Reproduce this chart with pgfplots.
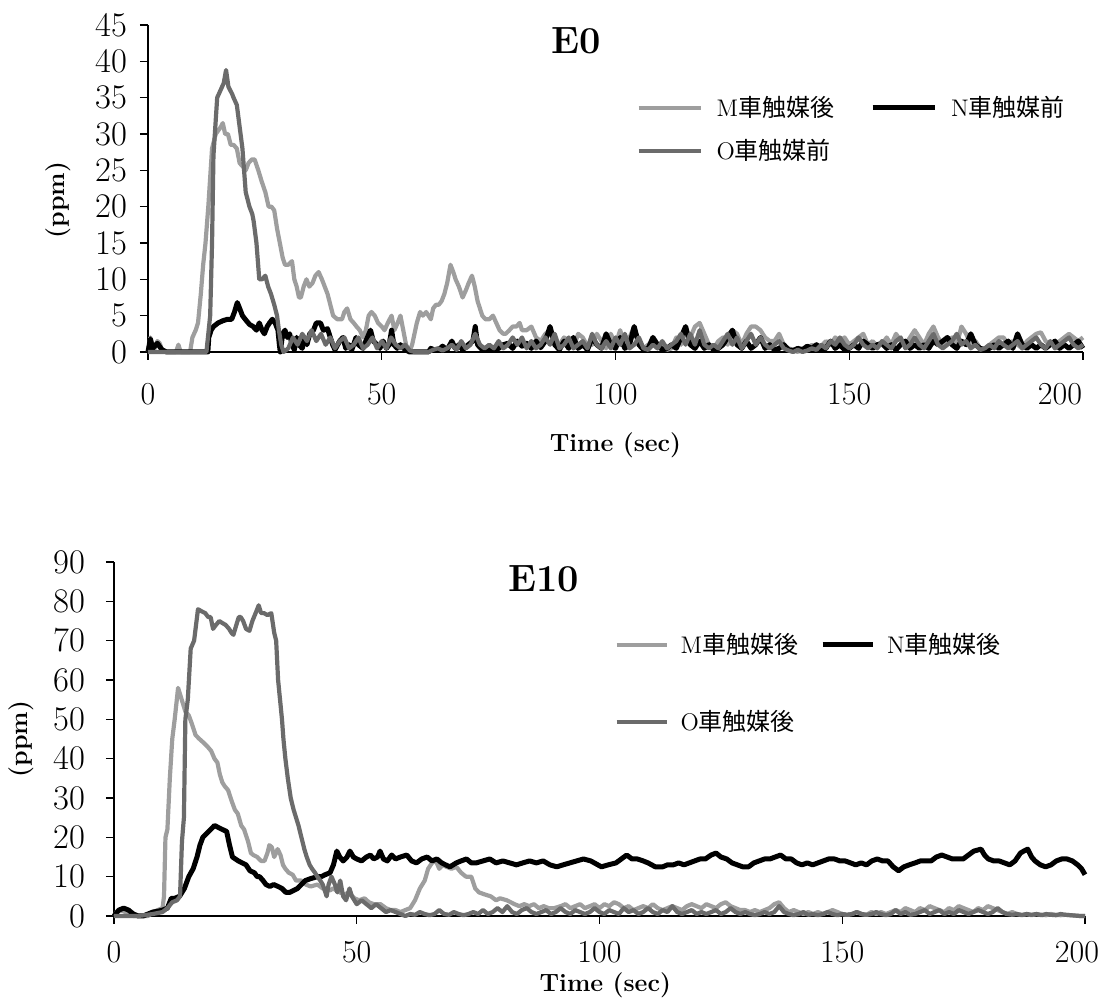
\documentclass[border=0pt]{standalone}
\usepackage{fontspec}
\usepackage{pgfplots}
\pgfplotsset{compat=1.18}
\newfontfamily\cjk{Noto Sans CJK JP}
\definecolor{mgray}{gray}{0.62}
\definecolor{ogray}{gray}{0.42}

\pgfplotsset{
  panel/.style={
    scale only axis, xmin=0, xmax=200, ymin=0,
    axis lines*=left, clip=false,
    axis line style={line width=0.8pt, black},
    tick align=outside, major tick length=4pt,
    tick style={line width=0.6pt, black},
    xtick={0,50,...,200},
    ticklabel style={font=\fontsize{16}{18}\selectfont},
    label style={font=\bfseries\fontsize{12.5}{15}\selectfont},
    legend cell align=left,
    legend columns=2,
  },
  mline/.style={mgray, line width=2.1pt, line join=round},
  nline/.style={black, line width=2.5pt, line join=round},
  oline/.style={ogray, line width=2.1pt, line join=round},
}

\begin{document}
\begin{tikzpicture}
\useasboundingbox (0,0) rectangle (552.5pt,500pt);

% ---------------- E0 ----------------
\begin{axis}[panel,
  at={(74pt,324pt)}, anchor=south west,
  width=467.5pt, height=163.5pt,
  ymax=45, ytick={0,5,...,45},
  xticklabels={0,50,100,150,\hspace*{-23pt}200},
  xticklabel style={yshift=-8pt},
  yticklabel style={xshift=-3pt},
  xlabel={Time (sec)}, ylabel={(ppm)},
  xlabel style={at={(axis description cs:0.5,-0.284)}, anchor=center},
  ylabel style={at={(axis description cs:-0.096,0.465)}, anchor=center},
  legend image code/.code={\draw[#1] (0pt,0pt) -- (31pt,0pt);},
  legend style={at={(axis cs:104.4,35.8)}, anchor=north west, draw=none, fill=none,
    inner sep=0pt, font=\fontsize{12}{14}\selectfont, row sep=6pt,
    /tikz/every odd column/.append style={column sep=5pt},
    /tikz/every even column/.append style={column sep=16pt}},
]
\addplot[mline] coordinates {
(0,0)(0.5,2)(1,1)(1.5,0.5)(2,1.5)(2.5,1.2)(3,0.3)(4,0)(6,0)(6.5,1)(7,0)(9,0)(9.5,2)(10.2,3)(10.7,4)(11.3,8)(11.8,12)(12.3,15)(12.9,20)(13.4,25)(13.7,28)(14.5,30)(15.6,31)(16,31.5)(16.5,30)(17.1,30)(17.7,28.5)(18.3,28.5)(19,28)(19.6,26)(20.3,25.5)(20.9,25)(21.5,26)(22.2,26.5)(22.8,26.5)(23.6,25)(24.3,23.5)(25.1,22)(25.8,20)(26.4,20)(27,19.5)(27.6,17)(28.2,15)(28.8,13)(29.3,12)(30,12)(30.8,12.5)(31.3,10)(31.8,9)(32.3,7.5)(32.7,7.5)(33.3,9)(33.9,10)(34.5,9)(35.2,9.5)(35.8,10.5)(36.5,11)(37.2,10)(37.8,9)(38.4,8)(39,6.5)(39.6,5)(40.5,4.5)(41.5,4.5)(42,5.5)(42.6,6)(43.3,4.5)(44,4)(44.6,3.5)(45.3,3)(46,2)(46.6,3)(47.2,5)(47.8,5.5)(48.5,5)(49.2,4)(50,3.5)(50.6,3)(51.3,4)(52.1,5)(52.7,3)(53.4,4)(54,5)(54.6,3)(55.2,1)(55.9,0)(56.5,1)(57,2.5)(57.5,4)(58.2,5.5)(58.8,5)(59.5,5.5)(60.5,4.5)(61,6)(61.6,6.5)(62.2,6.5)(62.8,7)(63.4,8)(64,9.5)(64.7,12)(65.3,11)(65.8,10)(66.5,9)(67.3,7.5)(68,8.5)(68.6,9.5)(69.3,10.5)(69.9,9)(70.5,7)(71.5,5)(72.2,4.5)(73,4.5)(73.8,5)(74.5,4)(75.2,3)(76,2.5)(76.5,2.5)(77.3,3)(78,3.5)(78.8,3.5)(79.5,4)
(80,3)(81,3)(82,3.5)(83,2)(84,1.5)(85,2.5)(86,3)(87,1.5)(88,1)(89,2)(90,1.5)(91,0.5)(92,2.5)(93,2)(94,0.8)(95,1)(96,2.5)(97,1.5)(98,0.5)(99,2.5)(100,1)(101,3)(102,1)(103,2)(104,3.5)(105,1)(106,0.5)(107,1)(108,1.5)(109,0.5)(110,1)(111,0.3)(112,0.5)(113,2)(114,1)(115,3)(116,2)(117,3.5)(118,4)(119,2.5)(120,1)(121,0.5)(122,1.5)(123,2)(124,1)(125,3)(126,2.5)(127,1)(128,2.5)(129,3.5)(130,3.5)(131,3)(132,2)(133,1.5)(134,1.5)(135,2.5)(136,1)(137,0.5)(138,0.3)(139,0)(140,0.5)(141,0.3)(142,1)(143,0.5)(144,0.8)(145,1.5)(146,1)(147,2)(148,1.5)(149,2)(150,1)(151,1.5)(152,2)(153,2.5)(154,1)(155,1.5)(156,0.8)(157,1)(158,2)(159,1)(160,2.5)(161,1.5)(162,1)(163,2)(164,3)(165,2)(166,1)(167,2.5)(168,3.5)(169,2)(170,1)(171,1.5)(172,2)(173,1)(174,3.5)(175,2.5)(176,1)(177,1.5)(178,0.5)(179,0.5)(180,1)(181,1.5)(182,2)(183,2)(184,1)(185,1.5)(186,1)(187,0.5)(188,1.5)(189,2)(190,2.5)(191,2.7)(192,1.5)(193,1)(194,1)(195,1.5)(196,2)(197,2.5)(198,2)(199,1.5)(200,2)
};
\addlegendentry{M{\cjk 車触媒後}}
\addplot[nline] coordinates {
(0,0)(0.5,1.8)(1,0.5)(2,1.2)(3,0.3)(4,0)(12.8,0)(13,2)(13.5,3)(14,3.5)(15,4)(16,4.3)(17,4.5)(17.9,4.5)(18.5,5.5)(19.1,6.8)(19.6,6)(20.2,5)(20.8,4.5)(21.7,3.8)(22.5,3.5)(23.2,3)(23.8,4)(24.4,3)(24.9,2.5)(25.5,3.5)(26,4)(26.6,4.5)(27.2,4)(27.8,3)(28.1,1)(28.3,0)(28.8,2.5)(29.3,3)(29.8,2)(30.3,2.5)(30.8,1)(31.3,0.3)(31.8,2)(32.3,1)(33,0.5)(33.5,2)(34,1)(34.6,2.5)(35.4,3)(36,4)(36.9,4)(37.5,3)(38.4,3.2)(39,2)(39.5,1)(40,0.3)(41,1.5)(41.7,2)(42.3,0.5)(43,1)(43.6,0.3)(44.5,2)(45,1)(46,0.5)(46.6,1.5)(47.6,3)(48.2,1.5)(49,1)(49.6,0.5)(50.3,1.5)(51,0.5)(51.6,1)(52.1,3)(52.6,1)(53.3,0.5)(54,1)(55,0.3)(56,0)(60,0)(60.5,0.5)(61.5,0.2)(62.5,0.5)(63,0.8)(64,0.3)(65,1.5)(65.7,0.5)(66.5,1)(67.3,0.3)(68.5,1)(69.5,1.5)(70,3.5)(70.5,1)(71.5,0.3)(73,0.5)(74,0.2)(75,0.5)(76,1)(77,1.2)(78,0.5)(79,1.5)(80,0.8)(81,1.2)(82,0.5)(83,1.5)(84,0.6)(85,1.5)
(86,3.5)(87,1)(88,0.3)(89,1.5)(90,0.5)(91,2)(92,0.5)(93,1)(94,0.3)(95,2)(96,1)(97,0.5)(98,2.5)(99,1)(100,0.5)(101,2)(102,0.5)(103,1)(104,3.5)(105,1)(106,0.3)(107,0.5)(108,2)(109,1)(110,0.3)(111,0.5)(112,1)(113,0.5)(114,2)(115,3.5)(116,1)(117,0.5)(118,1.5)(119,0.5)(120,1)(121,0.3)(122,0.5)(123,1)(124,2)(125,3)(126,1)(127,0.5)(128,1.5)(129,0.5)(130,1)(131,2)(132,0.5)(133,1)(134,0.3)(135,0.5)(136,1)(137,0.3)(138,0.2)(139,0.5)(140,0.3)(141,0.8)(142,0.5)(143,1)(144,0.3)(145,0.5)(146,1.5)(147,0.5)(148,1)(149,0.3)(150,0.5)(151,1)(152,0.5)(153,1.5)(154,1)(155,0.5)(156,1)(157,1.2)(158,0.5)(159,1)(160,0.3)(161,1)(162,1.5)(163,0.5)(164,1)(165,0.5)(166,1)(167,0.5)(168,1.5)(169,1)(170,1.5)(171,2)(172,1)(173,0.5)(174,1.5)(175,1)(176,2.5)(177,1)(178,0.5)(179,0.3)(180,0.5)(181,1)(182,0.5)(183,1)(184,1.5)(185,0.5)(186,2.5)(187,1)(188,0.5)(189,1)(190,0.5)(191,1)(192,0.5)(193,1)(194,1.5)(195,0.5)(196,1)(197,0.5)(198,1)(199,1.5)(200,0.5)
};
\addlegendentry{N{\cjk 車触媒前}}
\addplot[oline] coordinates {
(0,0)(12.5,0)(13.3,5)(13.7,15)(14,27)(14.8,35)(15.5,36)(16.2,37)(16.7,38.8)(17.2,36.5)(18,35.5)(18.3,35)(19,34)(19.6,31)(20.2,28)(20.9,22)(21.7,20)(22.3,19)(22.6,18)(23.2,15)(23.8,10)(24.4,10)(25.1,10.5)(25.7,9)(26.3,8)(27,6.5)(27.6,5)(28,3)(28.5,1)(29,0)
(30,0.5)(31,2)(32,1)(33,2.5)(34,1.5)(35,3)(36,1.5)(37,2.5)(38,1)(39,2)(40,0.5)(41,1.5)(42,2)(43,0.5)(44,1)(45,2)(46,0.5)(47,1)(48,2)(49,0.5)(50,1.5)(51,0.5)(52,2)(53,1)(54,0.5)(55,1)(56,0.2)(57,0)(60,0)(61,0.3)(62,0.5)(63,0.2)(64,0.5)(65,1)(66,0.3)(67,1.5)(68,0.5)(69,1)(70,2.5)(71,1)(72,0.5)(73,1)(74,0.5)(75,1.5)(76,0.5)(77,1)(78,2)(79,1)(80,2)(81,0.5)(82,1.5)(83,0.5)(84,1)(85,2)(86,1)(87,2.5)(88,0.5)(89,1)(90,2)(91,0.5)(92,1)(93,1.5)(94,0.5)(95,2.5)(96,1)(97,0.5)(98,1.5)(99,0.5)(100,2)(101,1)(102,2.5)(103,0.5)(104,1)(105,2)(106,0.5)(107,0.3)(108,1)(109,0.5)(110,1.5)(111,0.5)(112,1)(113,1.5)(114,2.5)(115,1)(116,2.5)(117,1)(118,3)(119,1)(120,0.5)(121,1)(122,0.5)(123,1.5)(124,2.5)(125,1)(126,2)(127,0.5)(128,1.5)(129,2.5)(130,1)(131,2)(132,1)(133,0.5)(134,1)(135,1.5)(136,0.5)(137,0.2)(138,0)(139,0.3)(140,0)(141,0.2)(142,0.5)(143,0.3)(144,1)(145,0.5)(146,1.5)(147,1)(148,2)(149,1)(150,0.5)(151,1)(152,2)(153,1)(154,0.5)(155,1)(156,0.5)(157,1.5)(158,1)(159,0.5)(160,1.5)(161,2)(162,0.5)(163,1)(164,2)(165,1)(166,0.5)(167,1.5)(168,2.5)(169,1)(170,0.5)(171,1)(172,1.5)(173,2.5)(174,1)(175,1.5)(176,0.5)(177,1)(178,0.3)(179,0.5)(180,1)(181,0.5)(182,1.5)(183,1)(184,0.5)(185,1)(186,1.5)(187,0.5)(188,1)(189,1.5)(190,2)(191,1)(192,0.5)(193,1.5)(194,0.5)(195,1)(196,1.5)(197,2)(198,1)(199,0.5)(200,1)
};
\addlegendentry{O{\cjk 車触媒前}}
\node[font=\bfseries\fontsize{19}{22}\selectfont] at (axis cs:91.5,42.8) {E0};
\end{axis}

% ---------------- E10 ----------------
\begin{axis}[panel,
  at={(57pt,42pt)}, anchor=south west,
  width=485.5pt, height=177pt,
  ymax=90, ytick={0,10,...,90},
  xticklabels={0,50,100,150,\hspace*{-8pt}200},
  xticklabel style={yshift=-5pt},
  yticklabel style={xshift=-7pt},
  xlabel={Time (sec)}, ylabel={(ppm)},
  xlabel style={at={(axis description cs:0.506,-0.195)}, anchor=center},
  ylabel style={at={(axis description cs:-0.095,0.5)}, anchor=center},
  legend image code/.code={\draw[#1] (0pt,0pt) -- (25pt,0pt);},
  legend style={at={(axis cs:103,73)}, anchor=north west, draw=none, fill=none,
    inner sep=0pt, font=\fontsize{12}{14}\selectfont, row sep=23pt,
    /tikz/every odd column/.append style={column sep=4pt},
    /tikz/every even column/.append style={column sep=9pt}},
]
\addplot[mline] coordinates {
(0,0)(0.5,1)(1,1.5)(2,1.2)(3,0.5)(4,0)(7,0)(8,1)(9,1.5)(10,2)(10.3,5)(10.6,20)(11,22)(11.5,35)(12,45)(12.5,50)(13.2,58)(13.7,56)(14.2,54)(14.7,52)(15.4,51)(16,49)(16.8,46)(17.6,45)(18.5,44)(19.3,43)(20,42)(20.7,40)(21.3,39)(21.8,36)(22.3,34)(22.8,33)(23.5,32)(24.3,29)(24.9,27)(25.5,26)(26.2,23)(26.8,22)(27.6,19)(28.2,16)(28.7,15.5)(29.5,15)(30.3,14)(31,14)(31.6,16)(32,18)(32.5,17.5)(33,15)(33.7,17)(34.3,15.5)(34.8,13)(35.3,12)(36,11)(36.8,10.5)(37.5,9)(38.6,9)(39.5,8)(40.5,7.5)(41.9,8)(43,7)(44.5,6.5)(45.1,7)(46.5,6)(47.5,5.5)(48.4,6)(49.5,4.5)(50.5,4)(51.6,4.5)(52.5,3.5)(53.5,3)(54.9,3)(56,2)(57,1.5)(58,1.5)(59,1)(60,1.5)(61,2)(62,4)(63,7)(64,9)(64.7,12)(65.5,13.5)(66.3,14)(67,12)(67.7,13)(68.5,12.5)(69.5,12)(70.5,12.5)(71.5,11)(72.5,10)(73.6,10)(74.4,7)(75.2,6)(76.3,5.5)(77.6,5)(78.7,4)(79.5,4.5)(80.9,4)(82.5,3)(83.5,2.5)(84.5,3)(85.5,2.5)(86.5,3)(87.5,2)(88.5,2.5)(89.5,2)(90.7,2)(92,2.5)(93,3)(94,2)(95,2.5)(96,3)
(97,2)(98,2.5)(99,3)(100,2)(101,3)(102,2.5)(103,3.5)(104,3)(105,2)(106,2.5)(107,1.5)(108,2)(109,2.5)(110,2)(111,3)(112,2)(113,1.5)(114,2)(115,2.5)(116,2)(117,1.5)(118,2.5)(119,3)(120,2.5)(121,2)(122,3)(123,2.5)(124,2)(125,3)(126,3.5)(127,2.5)(128,2)(129,1.5)(130,1.5)(131,1)(132,1.5)(133,1)(134,1.5)(135,2)(136,3)(137,3.5)(138,2)(139,1)(140,1.5)(141,1)(142,0.5)(143,1)(144,0.5)(145,1)(146,0.5)(147,1)(148,1.5)(149,1)(150,0.5)(151,0.3)(152,0.5)(153,1)(154,0.5)(155,0.3)(156,1)(157,0.5)(158,1)(159,0.5)(160,1)(161,1.5)(162,1)(163,2)(164,1.5)(165,1)(166,2)(167,1.5)(168,2.5)(169,2)(170,1.5)(171,1)(172,2)(173,1.5)(174,2.5)(175,2)(176,1.5)(177,1)(178,2)(179,1.5)(180,2.5)(181,2)(182,1.5)(183,1)(184,0.5)(185,1)(186,0.5)(187,0.3)(188,0.5)(189,0.2)(190,0.5)(191,0.3)(192,0.2)(193,0.5)(194,0.3)(195,0.2)(196,0.3)(197,0.2)(198,0.1)(199,0)(200,0)
};
\addlegendentry{M{\cjk 車触媒後}}
\addplot[nline] coordinates {
(0,0)(1,1.5)(2,2)(3,1.5)(4,0.5)(5,0)(6,0)(7,0.5)(8,1)(9,1.2)(10,1.5)(11,2)(11.8,4.5)(12.5,4.5)(13.5,5)(14.5,7)(15.4,10)(16.3,12)(17.1,15)(17.7,18)(18.3,20)(19.1,21)(19.9,22)(20.7,23)(21.5,22.5)(22.3,22)(23.2,21.5)(23.8,18)(24.4,15)(25,14.5)(25.6,14)(26.4,13.5)(27.2,13)(28,11.5)(28.9,11)(29.5,10)(30,10)(30.7,9)(31.3,8)(32.1,7.5)(32.9,8)(33.8,7.5)(34.6,7)(35.4,6)(36.2,6)(37,6.5)(37.8,7)(38.6,8)(39.4,9)(40.5,9.5)(41.9,10)(42.7,10)(43.5,10.5)
(44.5,11)(45.2,13)(45.9,16.5)(46.5,15)(47.2,14)(48,15)(48.6,16.5)(49.3,15)(50,14.5)(51,14)(52,15)(52.8,15.5)(53.5,14.5)(54.3,15)(54.8,16.5)(55.5,14.5)(56.3,14)(57.2,15.5)(58,14.5)(59,15)(60.3,15.5)(61.3,14)(62.3,13.5)(63.4,14.5)(64.5,15)(65.5,14)(66.5,14.5)(67.5,13.5)(68.3,13)(69.2,12.5)(70.5,13.5)(71.5,14)(72.6,14.5)(73.6,13.5)(74.6,13.5)(76,14)(77.4,14.5)(78.7,13.5)(80.1,14)(81.5,13.5)(82.9,13)(84.2,13.5)(85.6,14)(87,13.5)(88.4,14)(89.8,13)(91.2,12.5)(92.5,13)(93.9,13.5)(95.3,14)(96.7,14.5)(98.2,14)(100.4,12.5)(101.8,13)(103.4,13.5)(104.5,14.5)(105.6,15.5)(106.7,14.5)(107.8,14.5)(109,14)(110,13.5)(111.5,12.5)(113,12.5)(114,13)(115.2,13)(116.3,13.5)(117.4,13)(118.5,13.5)(119.6,14)(120.7,14.5)(121.8,14.5)(123,15.5)(124,16)(125,15)(126.2,14.5)(127.3,13.5)(128.4,13)(129.5,12.5)(130.7,12.5)(131.8,13.5)(132.9,14)(134,14.5)(135.1,14.5)(136.2,15)(137.3,15.5)(138.4,14.5)(139.5,14.5)(140.6,13.5)(141.7,13)(142.8,13.5)(143.9,13)(145,13.5)(146.1,14)(147.2,14.5)(148.4,14.5)(149.5,14)(150.6,14)(151.7,13.5)(152.8,13)(153.9,13.5)(155,13)(156.1,14)(157.2,14.5)(158.3,14)(159.4,14)(160.5,12.5)(161.6,11.5)(162.7,12.5)(163.8,13)(165,13.5)(166.1,14)(167.2,14)(168.3,14)(169.4,15)(170.5,15.5)(171.6,15)(172.7,14.5)(173.8,14.5)(174.9,14.5)(176,15.5)(177.1,16.5)(178.6,17)(179.3,15.5)(180.1,14.5)(181.2,14)(182.3,14)(183.4,13.5)(184.5,13)(185.6,14)(186.7,16)(187.4,16.5)(188.2,17)(189,15)(189.7,14)(190.8,13)(191.9,12.5)(193,13)(194.1,14)(195.2,14.5)(196.3,14.5)(197.4,14)(198.5,13)(199.3,12)(200,10.5)
};
\addlegendentry{N{\cjk 車触媒後}}
\addplot[oline] coordinates {
(0,0)(5,0)(8,0.5)(10,1)(11,2)(12,3.5)(13,4)(13.6,5)(14,19)(14.4,25)(14.7,50)(15.2,55)(15.8,68)(16.5,70)(17,75)(17.3,78)(18,77.5)(18.8,77)(19.4,76)(19.9,76)(20.4,73)(21,74)(21.7,75)(22.3,74.5)(23,74)(23.7,73)(24.2,72)(24.6,71.5)(25.2,74)(25.7,76)(26.1,76)(26.6,75)(27.2,73)(27.9,72.5)(28.5,75)(29,76.5)(29.5,78)(29.8,79)(30.3,77)(30.9,77)(31.6,76.5)(32.4,77)(33,72)(33.4,70)(33.8,60)(34.2,55)(34.6,50)(34.9,45)(35.3,40)(35.8,35)(36.4,30)(37,27)(37.5,25)(38,23)(38.6,20)(39.2,17)(39.7,15)(40.3,13)(40.8,12)(41.4,11)(41.9,10)(42.5,9)(43,8)(43.8,5)(44.2,8)(44.8,10)(45.5,8)(46,6)(46.6,9)(47.2,5)(47.8,4)(48.5,7)(49,5)(50,3)(51,4)(52,3)(53,2)(54,3)(55,2)(56,1)(57,1.5)(58,1)(59,0.5)
(60,0)(61,0.5)(62,0.3)(63,1)(64,0.5)(65,0.2)(66,0.5)(67,1.5)(68,0.5)(69,0.3)(70,1)(71,0.5)(72,0.2)(73,0.5)(74,1)(75,0.5)(76,1.5)(77,0.5)(78,1)(79,2)(80,1)(81,2.5)(82,1)(83,0.5)(84,1.5)(85,2)(86,1)(87,0.5)(88,1)(89,1.5)(90,0.5)(91,1)(92,2)(93,1)(94,0.5)(95,1.5)(96,1)(97,0.5)(98,1)(99,2)(100,1)(101,0.5)(102,1.5)(103,1)(104,0.5)(105,2)(106,1)(107,1.5)(108,0.5)(109,1)(110,2)(111,1)(112,0.5)(113,1.5)(114,1)(115,2.5)(116,1)(117,0.5)(118,1)(119,1.5)(120,0.5)(121,1)(122,0.5)(123,1)(124,1.5)(125,0.5)(126,1)(127,2)(128,1)(129,0.5)(130,1)(131,0.5)(132,0.2)(133,0.5)(134,1)(135,0.5)(136,1)(137,2.5)(138,1)(139,0.5)(140,0.2)(141,0.5)(142,1)(143,0.3)(144,0.5)(145,0.2)(146,0.5)(147,1)(148,0.5)(149,0.2)(150,0.5)(151,0.3)(152,0.5)(153,1)(154,0.5)(155,0.3)(156,0.5)(157,1)(158,0.5)(159,0.2)(160,0.5)(161,1.5)(162,0.5)(163,1)(164,0.3)(165,0.5)(166,1)(167,1.5)(168,0.5)(169,1)(170,1.5)(171,0.5)(172,1)(173,0.5)(174,1.5)(175,1)(176,0.5)(177,1)(178,1.5)(179,1)(180,0.5)(181,1)(182,2)(183,1)(184,0.5)(185,0.3)(186,0.5)(187,0.2)(188,0.5)(189,0.3)(190,0.5)(191,0.2)(192,0.5)(193,0.3)(194,0.2)(195,0.5)(196,0.3)(197,0.2)(198,0.1)(199,0)(200,0)
};
\addlegendentry{O{\cjk 車触媒後}}
\node[font=\bfseries\fontsize{19}{22}\selectfont] at (axis cs:88.5,85.8) {E10};
\end{axis}
\end{tikzpicture}
\end{document}
